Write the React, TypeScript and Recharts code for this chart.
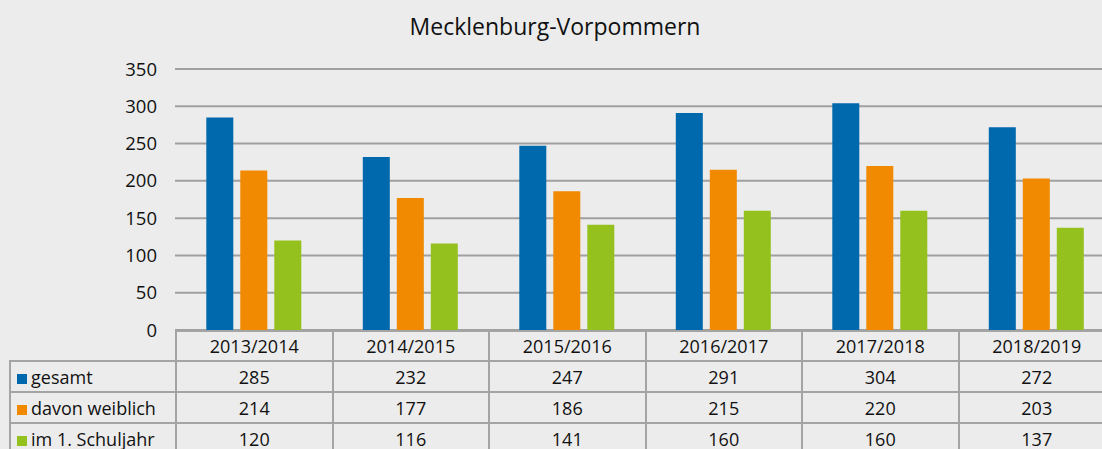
import React from 'react';
import { BarChart, Bar, XAxis, YAxis, CartesianGrid } from 'recharts';

const categories = ['2013/2014', '2014/2015', '2015/2016', '2016/2017', '2017/2018', '2018/2019'];
const gesamt = [285, 232, 247, 291, 304, 272];
const weiblich = [214, 177, 186, 215, 220, 203];
const ersteKlasse = [120, 116, 141, 160, 160, 137];
const yTicks = [0, 50, 100, 150, 200, 250, 300, 350];

const series = [
  { key: 'gesamt', name: 'gesamt', color: '#0069ad', values: gesamt },
  { key: 'weiblich', name: 'davon weiblich', color: '#f18a00', values: weiblich },
  { key: 'ersteKlasse', name: 'im 1. Schuljahr', color: '#95c11f', values: ersteKlasse },
];

const data = categories.map((c, i) => ({
  name: c,
  gesamt: gesamt[i],
  weiblich: weiblich[i],
  ersteKlasse: ersteKlasse[i],
}));

const FONT = '"Open Sans", "Noto Sans", sans-serif';
const BORDER = '2px solid #a4a4a4';
const COL_W = 156.5;

const App: React.FC = () => {
  return (
    <div
      style={{
        position: 'absolute',
        left: 0,
        top: 0,
        width: 1102,
        height: 449,
        overflow: 'hidden',
        background: '#ececec',
        fontFamily: FONT,
        color: '#111',
      }}
    >
      <div
        style={{
          position: 'absolute',
          top: 10,
          left: 0,
          width: 1110,
          textAlign: 'center',
          fontSize: 23,
          lineHeight: '32px',
        }}
      >
        Mecklenburg-Vorpommern
      </div>
      <div style={{ position: 'absolute', left: 0, top: 0 }}>
        <BarChart
          width={1114}
          height={449}
          data={data}
          margin={{ top: 69, right: 0, bottom: 119, left: 0 }}
          barCategoryGap="20%"
          barGap={7}
        >
          <CartesianGrid vertical={false} stroke="#a0a0a0" strokeWidth={2} />
          <XAxis dataKey="name" hide />
          <YAxis
            width={175}
            domain={[0, 350]}
            ticks={yTicks}
            axisLine={false}
            tickLine={false}
            tickSize={6}
            tickMargin={12}
            tick={{ fill: '#111', fontSize: 18.5, fontFamily: FONT }}
          />
          {series.map((s) => (
            <Bar key={s.key} dataKey={s.key} name={s.name} fill={s.color} isAnimationActive={false} />
          ))}
        </BarChart>
      </div>
      <table
        style={{
          position: 'absolute',
          left: 9,
          top: 330,
          width: 166 + COL_W * categories.length,
          borderCollapse: 'collapse',
          tableLayout: 'fixed',
          fontSize: 18,
          fontFamily: FONT,
        }}
      >
        <colgroup>
          <col style={{ width: 166 }} />
          {categories.map((c) => (
            <col key={c} style={{ width: COL_W }} />
          ))}
        </colgroup>
        <tbody>
          <tr style={{ height: 30 }}>
            <td style={{ border: 'none', padding: 0 }} />
            {categories.map((c) => (
              <td key={c} style={{ border: BORDER, textAlign: 'center', padding: 0 }}>
                {c}
              </td>
            ))}
          </tr>
          {series.map((s) => (
            <tr key={s.key} style={{ height: 31 }}>
              <td style={{ border: BORDER, padding: '0 0 0 6px', whiteSpace: 'nowrap' }}>
                <span
                  style={{
                    display: 'inline-block',
                    width: 10,
                    height: 10,
                    background: s.color,
                    marginRight: 4,
                  }}
                />
                {s.name}
              </td>
              {s.values.map((v, i) => (
                <td key={i} style={{ border: BORDER, textAlign: 'center', padding: 0 }}>
                  {v}
                </td>
              ))}
            </tr>
          ))}
        </tbody>
      </table>
    </div>
  );
};

export default App;
